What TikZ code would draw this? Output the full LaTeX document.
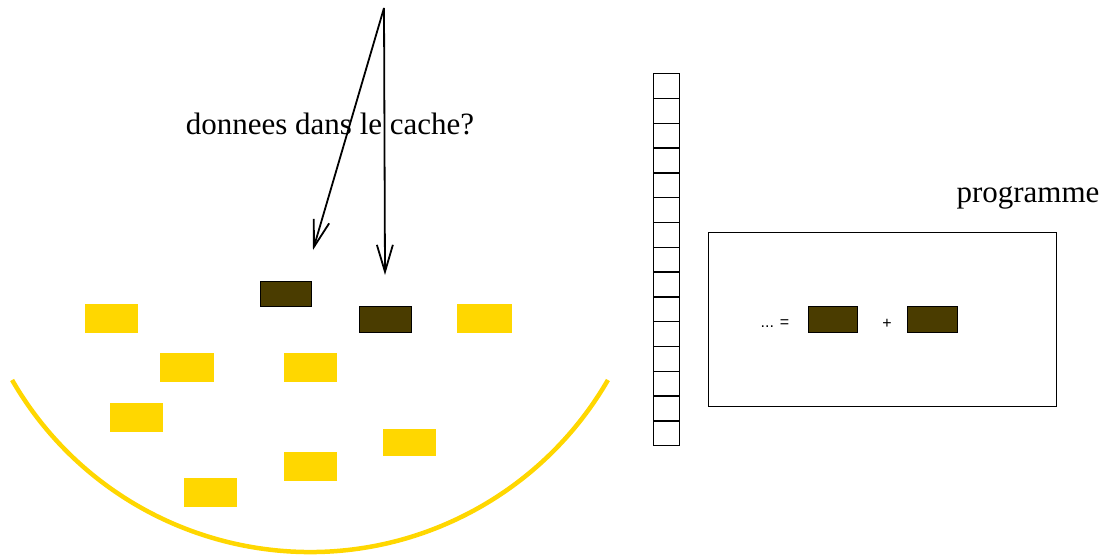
\documentclass[tikz,border=0pt]{standalone}
\usepackage{fontspec}
\setmainfont{Liberation Serif}
\newfontfamily\lsans{Liberation Sans}
\usetikzlibrary{arrows.meta}
\definecolor{gold}{HTML}{FFD700}
\definecolor{darkbox}{HTML}{4A3C00}
\begin{document}
\begin{tikzpicture}[x=1pt,y=1pt,
  ybox/.style={fill=gold,draw=none},
  dbox/.style={fill=darkbox,draw=black,line width=1.2pt},
  arr/.style={line width=1.8pt,-{Straight Barb[length=27pt,width=16pt,line width=1.8pt]}},
  lbl/.style={font=\fontsize{31}{31}\selectfont,inner sep=0pt},
  small/.style={font=\lsans\fontsize{16}{16}\selectfont,inner sep=0pt},
  cellbox/.style={draw=black,line width=1.4pt}
]
\useasboundingbox (0,0) rectangle (1103,-557);
% cache bowl
\draw[gold,line width=4.5pt] (310,-208) ++(210:344) arc[start angle=210,end angle=330,radius=344];
% yellow blocks
\fill[ybox] (85,-304) rectangle (138,-333);
\fill[ybox] (160,-353) rectangle (214,-382);
\fill[ybox] (284,-353) rectangle (337,-382);
\fill[ybox] (110,-403) rectangle (163,-432);
\fill[ybox] (457,-304) rectangle (512,-333);
\fill[ybox] (383,-429) rectangle (436,-456);
\fill[ybox] (284,-452) rectangle (337,-481);
\fill[ybox] (184,-478) rectangle (237,-507);
% dark blocks in cache
\node[dbox,minimum width=51pt,minimum height=25pt,inner sep=0pt,anchor=north west] (d1) at (260,-281) {};
\node[dbox,minimum width=52pt,minimum height=26pt,inner sep=0pt,anchor=north west] (d2) at (359,-306) {};
% arrows
\coordinate (top) at (384,-8);
\coordinate (t1) at (313,-250);
\coordinate (t2) at (385,-275);
\draw[arr] (top) -- (t1);
\draw[arr] (top) -- (t2);
\node[lbl] (q) at (330,-124) {donnees dans le cache?};
% column of cells
\foreach \i in {0,...,14}{
  \node[cellbox,minimum width=26pt,minimum height=24.8pt,inner sep=0pt,anchor=north west] (c\i) at (653,{-73-24.8*\i}) {};
}
% programme box
\node[lbl,anchor=center] (prog) at (1028,-198) {programme};
\node[draw=black,line width=1.4pt,minimum width=348pt,minimum height=174pt,inner sep=0pt,anchor=north west] (pbox) at (708,-232) {};
\node[dbox,minimum width=49pt,minimum height=26pt,inner sep=0pt,anchor=north west] (p1) at (808,-306) {};
\node[dbox,minimum width=50pt,minimum height=26pt,inner sep=0pt,anchor=north west] (p2) at (907,-306) {};
\node[small] (eq) at (775,-324) {... =};
\node[small] (plus) at (887,-324) {+};
\end{tikzpicture}
\end{document}
